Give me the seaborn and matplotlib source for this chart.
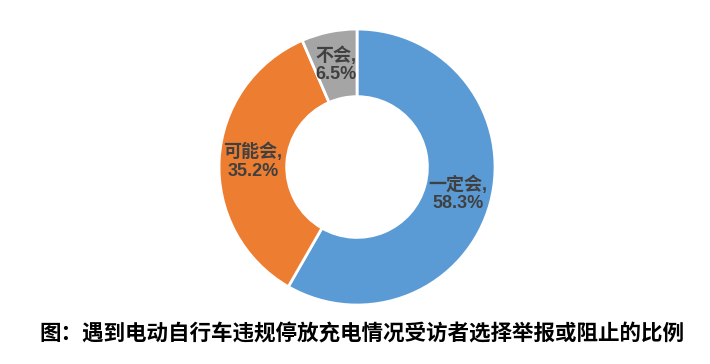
import matplotlib
matplotlib.use('Agg')
import matplotlib.pyplot as plt
import seaborn as sns

# 数据
categories = ['一定会', '可能会', '不会']
shares = [58.3, 35.2, 6.5]
colors = ['#5B9BD5', '#ED7D31', '#A5A5A5']
caption = '图：遇到电动自行车违规停放充电情况受访者选择举报或阻止的比例'

sns.set_theme(style='white')
plt.rcParams['font.family'] = ['Noto Sans CJK SC', 'DejaVu Sans']

fig = plt.figure(figsize=(7.1, 3.64), dpi=100)
fig.patch.set_facecolor('white')
ax = fig.add_axes([0.3085, 0.162, 276 / 710, 276 / 364])

labels = [f'{c},\n{v:.1f}%' for c, v in zip(categories, shares)]
wedges, texts = ax.pie(shares, colors=colors, startangle=90, counterclock=False,
                       radius=1.0, labels=labels, labeldistance=0.755,
                       wedgeprops=dict(width=0.49, edgecolor='white', linewidth=2),
                       textprops=dict(fontsize=13, fontweight='bold', color='#404040',
                                      family=['Liberation Sans', 'Noto Sans CJK SC'],
                                      ha='center', va='center', linespacing=1.1))
for t in texts:
    t.set_ha('center')
    t.set_va('center')
ax.set_xlim(-1, 1)
ax.set_ylim(-1, 1)
ax.set_aspect('equal')
ax.axis('off')

fig.text(0.51, 0.082, caption, ha='center', va='center', fontsize=15.5,
         fontweight='bold', color='black')

fig.savefig('out.png', dpi=100, facecolor='white')
